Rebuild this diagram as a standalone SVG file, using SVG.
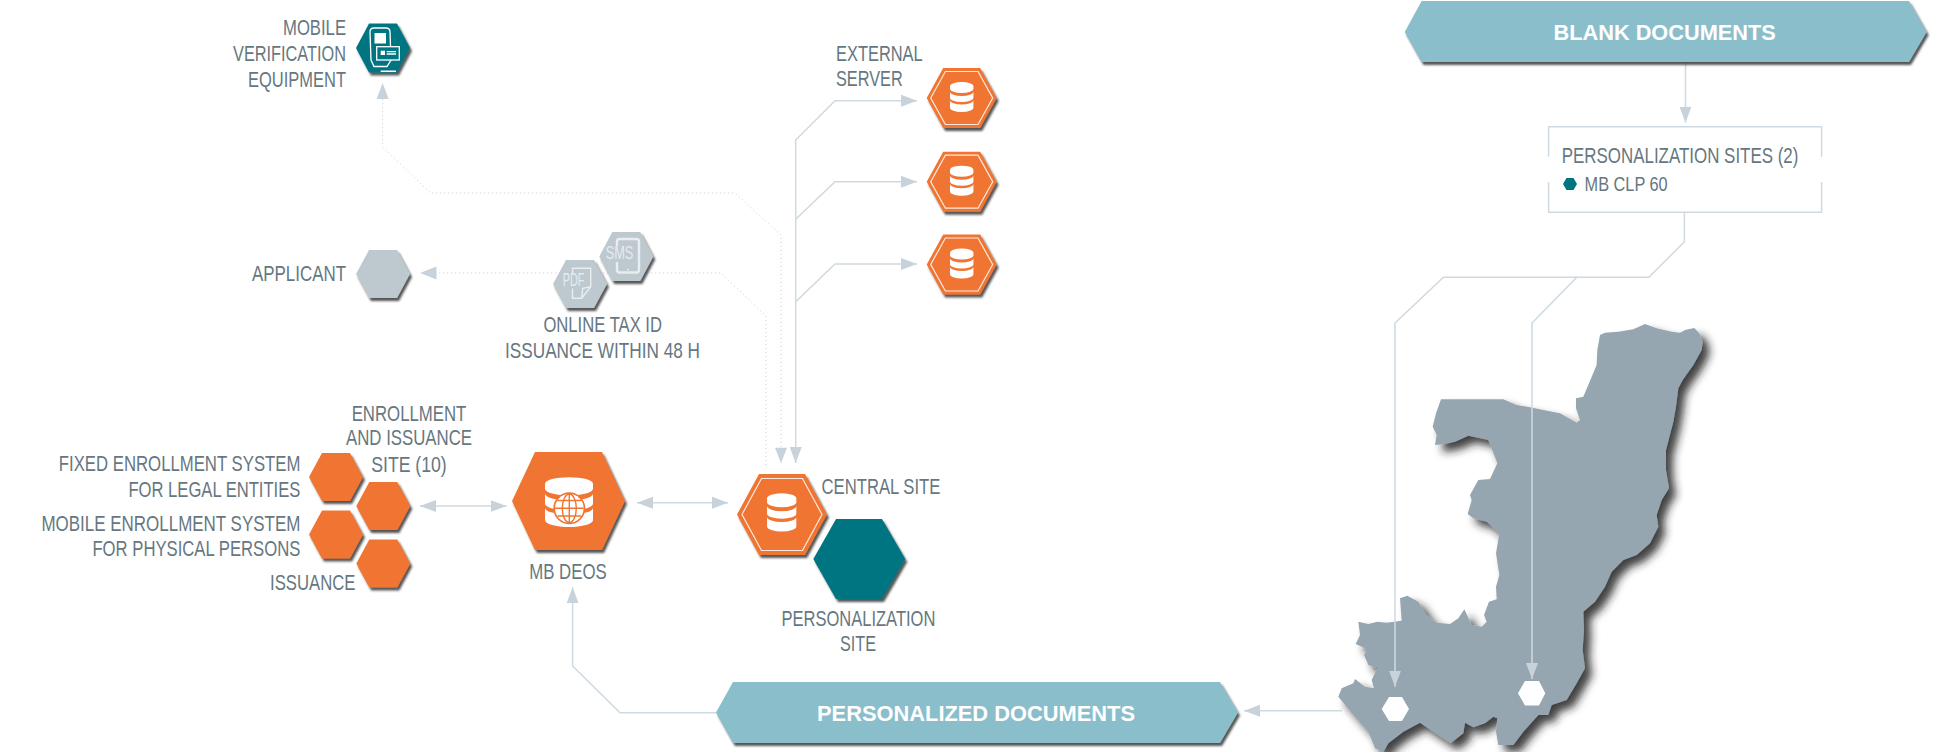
<svg xmlns="http://www.w3.org/2000/svg" xmlns:xlink="http://www.w3.org/1999/xlink" width="1933" height="752" viewBox="0 0 1933 752">
<style>
text{font-family:"Liberation Sans",Arial,sans-serif;font-weight:400;font-size:22.5px;fill:#66777f}
.b{font-family:"Liberation Sans",Arial,sans-serif;font-weight:700;fill:#fff;font-size:22px}
.ic{fill:#e6ebee;font-size:18px}
.s{fill:none;stroke:#cfd9e0;stroke-width:1.5}
.d{fill:none;stroke:#c3ccd3;stroke-width:1;stroke-dasharray:1 3}
.o{fill:#f07530}.t{fill:#007582}.g{fill:#bdc8cf}.bl{fill:#8bbecb}
.in{fill:none;stroke:#fff;stroke-width:1.2;opacity:.85}
.w{fill:#fff}
.wl{fill:none;stroke:#fff;stroke-width:1.3}
.wl2{fill:none;stroke:#e9edf0;stroke-width:1.4}
</style>
<defs>
<filter id="sh" x="-20%" y="-20%" width="145%" height="145%"><feDropShadow dx="2" dy="3" stdDeviation="1" flood-color="#2a2a2a" flood-opacity=".8"/></filter>
<filter id="msh" x="-10%" y="-10%" width="125%" height="120%"><feDropShadow dx="7" dy="7" stdDeviation="4.500" flood-color="#1c1c1c" flood-opacity=".85"/></filter>
<marker id="a" markerUnits="userSpaceOnUse" markerWidth="17" markerHeight="13" refX="16" refY="6.5" orient="auto-start-reverse"><path d="M0,0.5 L16,6.5 L0,12.5z" fill="#c8d2da"/></marker>
<g id="db">
<path class="w" d="M-11.7,-12 a11.7,4 0 0 1 23.4,0 v3 a11.7,4 0 0 1 -23.4,0z"/>
<path class="w" d="M-11.7,-6 a11.7,4 0 0 0 23.4,0 v6 a11.7,4 0 0 1 -23.4,0z"/>
<path class="w" d="M-11.700,2.500 a11.700,4 0 0 0 23.400,0 v7.500 a11.700,4 0 0 1 -23.400,0z"/>
</g>
<g id="ext">
<polygon class="o" points="-35,0 -18.500,-30 18.500,-30 35,0 18.500,30 -18.500,30" filter="url(#sh)"/>
<polygon class="in" points="-31,0 -16.300,-26.500 16.300,-26.500 31,0 16.300,26.500 -16.300,26.500"/>
<use xlink:href="#db" href="#db"/>
</g>
</defs>

<g id="map" filter="url(#msh)">
<polygon fill="#96a6b1" transform="translate(1290,300) scale(.33333)" points="930,105 945,98 985,95 1030,88 1065,72 1100,85 1145,95 1170,98 1185,90 1213,84 1228,100 1238,125 1235,150 1210,195 1178,240 1165,265 1158,320 1150,365 1128,450 1128,510 1137,565 1115,600 1100,645 1105,680 1080,730 1040,765 1000,780 965,815 945,860 915,905 880,935 882,990 878,1050 885,1105 860,1150 830,1200 785,1215 775,1245 745,1245 700,1295 670,1335 625,1335 618,1295 622,1255 610,1250 585,1270 550,1282 525,1268 520,1300 482,1330 430,1295 390,1268 340,1295 295,1330 280,1356 255,1345 235,1295 195,1250 145,1190 155,1165 190,1150 195,1137 225,1160 252,1165 245,1140 262,1105 235,1095 222,1065 232,1048 197,1032 210,1005 205,965 235,972 262,965 290,968 335,962 330,895 352,887 385,905 410,945 440,968 480,972 505,955 523,928 545,975 575,980 590,965 582,945 597,905 620,898 618,860 628,825 618,760 628,700 590,665 550,655 533,642 545,600 540,585 565,540 600,537 622,490 595,420 535,407 495,425 465,432 435,435 440,405 428,380 438,340 453,298 640,298 680,315 720,322 760,330 810,340 860,368 870,360 858,325 858,295 880,290 920,195 922,150"/>
</g>

<g id="connectors">
<path class="d" d="M781,463 V235 L735,193 H430.500 L382.600,147 V99"/>
<path d="M376.600,99 L382.600,83 L388.600,99z" fill="#c8d2da"/>
<path d="M775,447.700 L781,463 L787,447.700z" fill="#c8d2da"/>
<path class="d" d="M766,465 V316 L721,273 H436"/>
<path d="M436.500,266.500 L420,273 L436.500,279.500z" fill="#c8d2da"/>
<path class="s" d="M795.700,463 V140 L835,100.700 H917" marker-start="url(#a)" marker-end="url(#a)"/>
<path class="s" d="M795.700,219.300 L835,181.700 H917" marker-end="url(#a)"/>
<path class="s" d="M795.700,301.700 L835,264 H917" marker-end="url(#a)"/>
<path class="s" d="M420,506 H506.500" marker-start="url(#a)" marker-end="url(#a)"/>
<path class="s" d="M637,502.700 H728" marker-start="url(#a)" marker-end="url(#a)"/>
<path class="s" d="M716,712.700 H620 L572.600,666 V587.300" marker-end="url(#a)"/>
<path class="s" d="M1342,710.700 H1244" marker-end="url(#a)"/>
<path class="s" d="M1685.500,62 V122.700" marker-end="url(#a)"/>
<path class="s" d="M1684.400,212 V241.700 L1648.800,277.300 H1443.500 L1395,323 V686.700" marker-end="url(#a)"/>
<path class="s" d="M1576.800,277.300 L1532,323 V679" marker-end="url(#a)"/>
</g>

<g id="mobile-verification">
<polygon class="t" filter="url(#sh)" points="356,48 369,23.500 397,23.500 410,48 397,72.500 369,72.500"/>
<path class="wl" d="M370,32 Q370,28 374,28 H386 Q390,28 390,32 L391,60 L387,66.500 H374 L371,60 Z"/>
<rect class="w" x="374.500" y="33" width="11.500" height="10.500"/>
<rect x="376.700" y="46.700" width="22.600" height="13.300" class="t"/>
<rect class="wl" x="376.700" y="46.700" width="22.600" height="13.300"/>
<rect class="w" x="380.700" y="50.700" width="4.300" height="4.300"/>
<path class="wl" d="M386.700,51.700 H396 M386.700,54 H396" stroke-width="1"/>
<rect class="w" x="380.700" y="70.500" width="15.300" height="1.500"/>
<text x="346" y="35" text-anchor="end" textLength="63" lengthAdjust="spacingAndGlyphs">MOBILE</text>
<text x="346" y="61" text-anchor="end" textLength="113" lengthAdjust="spacingAndGlyphs">VERIFICATION</text>
<text x="346" y="86.700" text-anchor="end" textLength="98" lengthAdjust="spacingAndGlyphs">EQUIPMENT</text>
</g>

<g id="applicant">
<polygon class="g" filter="url(#sh)" points="356,274 369,250 397,250 410,274 397,298 369,298"/>
<text x="346" y="280.700" text-anchor="end" textLength="94" lengthAdjust="spacingAndGlyphs">APPLICANT</text>
</g>

<g id="online-tax-id">
<polygon class="g" filter="url(#sh)" points="599.300,256.500 612.300,232 640.300,232 653.300,256.500 640.300,281 612.300,281"/>
<rect x="617" y="239" width="22" height="33.500" rx="2.500" fill="none" stroke="#e9edf0" stroke-width="2.400"/>
<rect x="605" y="246" width="13.500" height="16" class="g"/>
<circle cx="627.800" cy="269.500" r=".8" class="w"/>
<text class="ic" x="605.700" y="259.300" textLength="27.700" lengthAdjust="spacingAndGlyphs">SMS</text>
<polygon class="g" filter="url(#sh)" points="553,284 566,260 594,260 607,284 594,308 566,308"/>
<path class="wl2" d="M572.500,274 V268.300 H590.700 V286.700 L581.700,298.300 H572.500 V288.500 M590.700,286.700 L582.700,288.300 L581.700,298.300"/>
<text class="ic" x="562.700" y="286" textLength="21.600" lengthAdjust="spacingAndGlyphs">PDF</text>
<text x="602.700" y="332.300" text-anchor="middle" textLength="118.600" lengthAdjust="spacingAndGlyphs">ONLINE TAX ID</text>
<text x="602.500" y="358.300" text-anchor="middle" textLength="195" lengthAdjust="spacingAndGlyphs">ISSUANCE WITHIN 48 H</text>
</g>

<g id="external-server">
<use xlink:href="#ext" href="#ext" x="961.700" y="98"/>
<text x="836" y="60.700" textLength="86.700" lengthAdjust="spacingAndGlyphs">EXTERNAL</text>
<text x="836" y="86" textLength="66.700" lengthAdjust="spacingAndGlyphs">SERVER</text>
</g>
<g id="external-server-2"><use xlink:href="#ext" href="#ext" x="961.700" y="181.700"/></g>
<g id="external-server-3"><use xlink:href="#ext" href="#ext" x="961.700" y="264.500"/></g>

<g id="enrollment-sites">
<polygon class="o" filter="url(#sh)" points="309,477 322,453 350,453 363,477 350,501 322,501"/>
<polygon class="o" filter="url(#sh)" points="356.300,506 369.300,482 397.300,482 410.300,506 397.300,530 369.300,530"/>
<polygon class="o" filter="url(#sh)" points="309,534.500 322,510.500 350,510.500 363,534.500 350,558.500 322,558.500"/>
<polygon class="o" filter="url(#sh)" points="356.300,563.500 369.300,539.500 397.300,539.500 410.300,563.500 397.300,587.500 369.300,587.500"/>
<text x="409" y="420.700" text-anchor="middle" textLength="114.700" lengthAdjust="spacingAndGlyphs">ENROLLMENT</text>
<text x="409" y="445" text-anchor="middle" textLength="126" lengthAdjust="spacingAndGlyphs">AND ISSUANCE</text>
<text x="409" y="471.700" text-anchor="middle" textLength="75.500" lengthAdjust="spacingAndGlyphs">SITE (10)</text>
<text x="300.400" y="470.700" text-anchor="end" textLength="241.600" lengthAdjust="spacingAndGlyphs">FIXED ENROLLMENT SYSTEM</text>
<text x="300.400" y="496.700" text-anchor="end" textLength="172" lengthAdjust="spacingAndGlyphs">FOR LEGAL ENTITIES</text>
<text x="300.400" y="530.700" text-anchor="end" textLength="259" lengthAdjust="spacingAndGlyphs">MOBILE ENROLLMENT SYSTEM</text>
<text x="300.400" y="555.700" text-anchor="end" textLength="208" lengthAdjust="spacingAndGlyphs">FOR PHYSICAL PERSONS</text>
<text x="355.500" y="590" text-anchor="end" textLength="85.500" lengthAdjust="spacingAndGlyphs">ISSUANCE</text>
</g>

<g id="mb-deos">
<polygon class="o" filter="url(#sh)" points="512,501 535,452 602,452 625,501 602,550 535,550"/>
<g transform="translate(569,503.700) scale(2.05,1.66)"><use xlink:href="#db" href="#db"/></g>
<circle cx="569.300" cy="508.300" r="16" class="o"/>
<circle cx="569.300" cy="508.300" r="14.300" class="w"/>
<g fill="none" stroke="#f07530" stroke-width="1.400">
<ellipse cx="569.300" cy="508.300" rx="7" ry="14.300"/>
<path d="M569.300,494 V522.600 M555,508.300 H583.600 M557.500,500.500 H581 M557.500,516 H581"/>
</g>
<text x="568" y="579" text-anchor="middle" textLength="77.500" lengthAdjust="spacingAndGlyphs">MB DEOS</text>
</g>

<g id="central-site">
<polygon class="o" filter="url(#sh)" points="737,514.500 759,474 805,474 827,514.500 805,555 759,555"/>
<polygon class="in" points="742,514.500 761.500,478.500 802.500,478.500 822,514.500 802.500,550.500 761.500,550.500"/>
<g transform="translate(781.700,513.700) scale(1.25,1.28)"><use xlink:href="#db" href="#db"/></g>
<text x="821.600" y="494" textLength="118.700" lengthAdjust="spacingAndGlyphs">CENTRAL SITE</text>
</g>

<g id="personalization-site">
<polygon class="t" filter="url(#sh)" points="813.300,559 836,519 882,519 905.300,559 882,599 836,599"/>
<text x="858.400" y="626" text-anchor="middle" textLength="154" lengthAdjust="spacingAndGlyphs">PERSONALIZATION</text>
<text x="858" y="650.700" text-anchor="middle" textLength="36" lengthAdjust="spacingAndGlyphs">SITE</text>
</g>

<g id="personalized-documents">
<polygon class="bl" filter="url(#sh)" points="716,712.500 733,682 1220,682 1238,712.500 1220,743 733,743"/>
<text class="b" x="817" y="720.700" textLength="318" lengthAdjust="spacingAndGlyphs">PERSONALIZED DOCUMENTS</text>
</g>

<g id="blank-documents">
<polygon class="bl" filter="url(#sh)" points="1404.700,32 1421.600,1 1909,1 1926.700,32 1909,62 1421.600,62"/>
<text class="b" x="1553.500" y="40" textLength="222.300" lengthAdjust="spacingAndGlyphs">BLANK DOCUMENTS</text>
</g>

<g id="personalization-sites">
<path class="s" d="M1548.600,156.700 V126.700 H1821.600 V156.700 M1821.600,182.300 V212.300 H1548.600 V182.300"/>
<text x="1561.700" y="163.300" textLength="236.700" lengthAdjust="spacingAndGlyphs">PERSONALIZATION SITES (2)</text>
<polygon class="t" points="1563,184 1566.500,178 1573.500,178 1577,184 1573.500,190 1566.500,190"/>
<text x="1584.600" y="191" style="font-size:21px" textLength="83" lengthAdjust="spacingAndGlyphs">MB CLP 60</text>
</g>

<g id="map-site-1"><polygon class="w" points="1381.700,709 1389,697 1402,697 1409,709 1402,721 1389,721"/></g>
<g id="map-site-2"><polygon class="w" points="1518,693.300 1525,681 1539,681 1545.300,693.300 1539,705.500 1525,705.500"/></g>
</svg>
